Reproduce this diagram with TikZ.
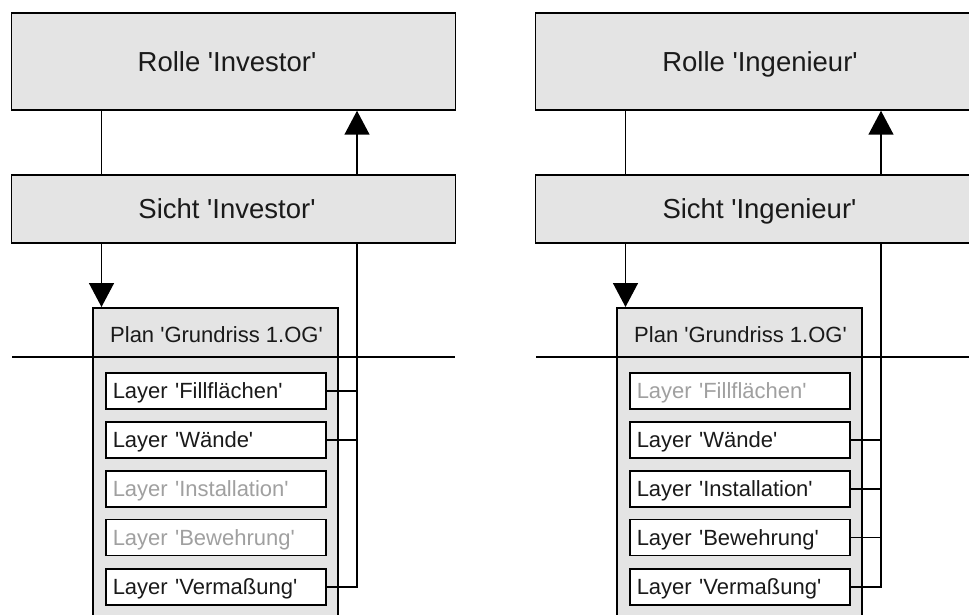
\documentclass[tikz,border=0pt]{standalone}
\usepackage{fontspec}
\setmainfont{Liberation Sans}[Ligatures=TeXOff]
\usetikzlibrary{arrows.meta}
\definecolor{boxfill}{HTML}{E4E4E4}
\definecolor{dimtext}{HTML}{A0A0A0}
\definecolor{inktext}{HTML}{1A1A1A}
\begin{document}
\begin{tikzpicture}[x=1pt,y=-1pt,line width=1.5pt,
  bigbox/.style={draw,fill=boxfill,inner sep=0pt},
  bigtext/.style={inner sep=0pt,text height=19.8pt,text depth=0pt,text=inktext,font=\fontsize{27.5}{32}\selectfont},
  planbox/.style={draw,fill=boxfill,inner sep=0pt,anchor=north west,minimum width=245pt,minimum height=330pt},
  plantext/.style={inner sep=0pt,text height=15.8pt,text depth=0pt,text=inktext,font=\fontsize{22}{26}\selectfont},
  layerbox/.style={draw,fill=white,anchor=west,minimum height=36pt,text width=206pt,inner xsep=7pt,inner ysep=0pt,text height=15.8pt,text depth=0pt,align=left,text=inktext,font=\fontsize{22}{26}\selectfont},
  layeroff/.style={layerbox,text=dimtext},
  arr/.style={-{Triangle[length=24pt,width=25pt]}}]
\useasboundingbox (0,0) rectangle (969,615);
\clip (0,0) rectangle (969,615);
% ---------------- left: Investor ----------------
\node[bigbox,minimum width=444pt,minimum height=97pt] (rolleI) at (233.5,61.5) {};
\node[bigtext] (rolleItxt) at (227,62) {Rolle 'Investor'};
\node[bigbox,minimum width=444pt,minimum height=68pt] (sichtI) at (233.5,209) {};
\node[bigtext] (sichtItxt) at (227,209) {Sicht 'Investor'};
\node[planbox] (planI) at (92,307) {};
\node[plantext] (planItxt) at (216.5,335) {Plan 'Grundriss 1.OG'};
\coordinate (hlIa) at (12,357);
\coordinate (hlIb) at (455,357);
\draw (hlIa) -- (hlIb);
\node[layerbox] (lI1) at (105,391) {Layer 'Fillflächen'};
\node[layerbox] (lI2) at (105,440) {Layer 'Wände'};
\node[layeroff] (lI3) at (105,489) {Layer 'Installation'};
\node[layeroff] (lI4) at (105,537.5) {Layer 'Bewehrung'};
\node[layerbox] (lI5) at (105,587) {Layer 'Vermaßung'};
\coordinate (dnI) at (101.5,0);
\coordinate (upI) at (357,0);
\draw (rolleI.south -| dnI) -- (sichtI.north -| dnI);
\draw[arr] (sichtI.south -| dnI) -- (planI.north -| dnI);
\draw (lI1.east) -- (lI1.east -| upI);
\draw (lI2.east) -- (lI2.east -| upI);
\draw (lI5.east) -- (lI5.east -| upI) -- (sichtI.south -| upI);
\draw[arr] (sichtI.north -| upI) -- (rolleI.south -| upI);
% ---------------- right: Ingenieur ----------------
\node[bigbox,minimum width=444pt,minimum height=97pt] (rolleE) at (757.5,61.5) {};
\node[bigtext] (rolleEtxt) at (760,62) {Rolle 'Ingenieur'};
\node[bigbox,minimum width=444pt,minimum height=68pt] (sichtE) at (757.5,209) {};
\node[bigtext] (sichtEtxt) at (759.5,209) {Sicht 'Ingenieur'};
\node[planbox] (planE) at (616,307) {};
\node[plantext] (planEtxt) at (740.5,335) {Plan 'Grundriss 1.OG'};
\coordinate (hlEa) at (536,357);
\coordinate (hlEb) at (979,357);
\draw (hlEa) -- (hlEb);
\node[layeroff] (lE1) at (629,391) {Layer 'Fillflächen'};
\node[layerbox] (lE2) at (629,440) {Layer 'Wände'};
\node[layerbox] (lE3) at (629,489) {Layer 'Installation'};
\node[layerbox] (lE4) at (629,537.5) {Layer 'Bewehrung'};
\node[layerbox] (lE5) at (629,587) {Layer 'Vermaßung'};
\coordinate (dnE) at (625.5,0);
\coordinate (upE) at (881,0);
\draw (rolleE.south -| dnE) -- (sichtE.north -| dnE);
\draw[arr] (sichtE.south -| dnE) -- (planE.north -| dnE);
\draw (lE2.east) -- (lE2.east -| upE);
\draw (lE3.east) -- (lE3.east -| upE);
\draw (lE4.east) -- (lE4.east -| upE);
\draw (lE5.east) -- (lE5.east -| upE) -- (sichtE.south -| upE);
\draw[arr] (sichtE.north -| upE) -- (rolleE.south -| upE);
\end{tikzpicture}
\end{document}
